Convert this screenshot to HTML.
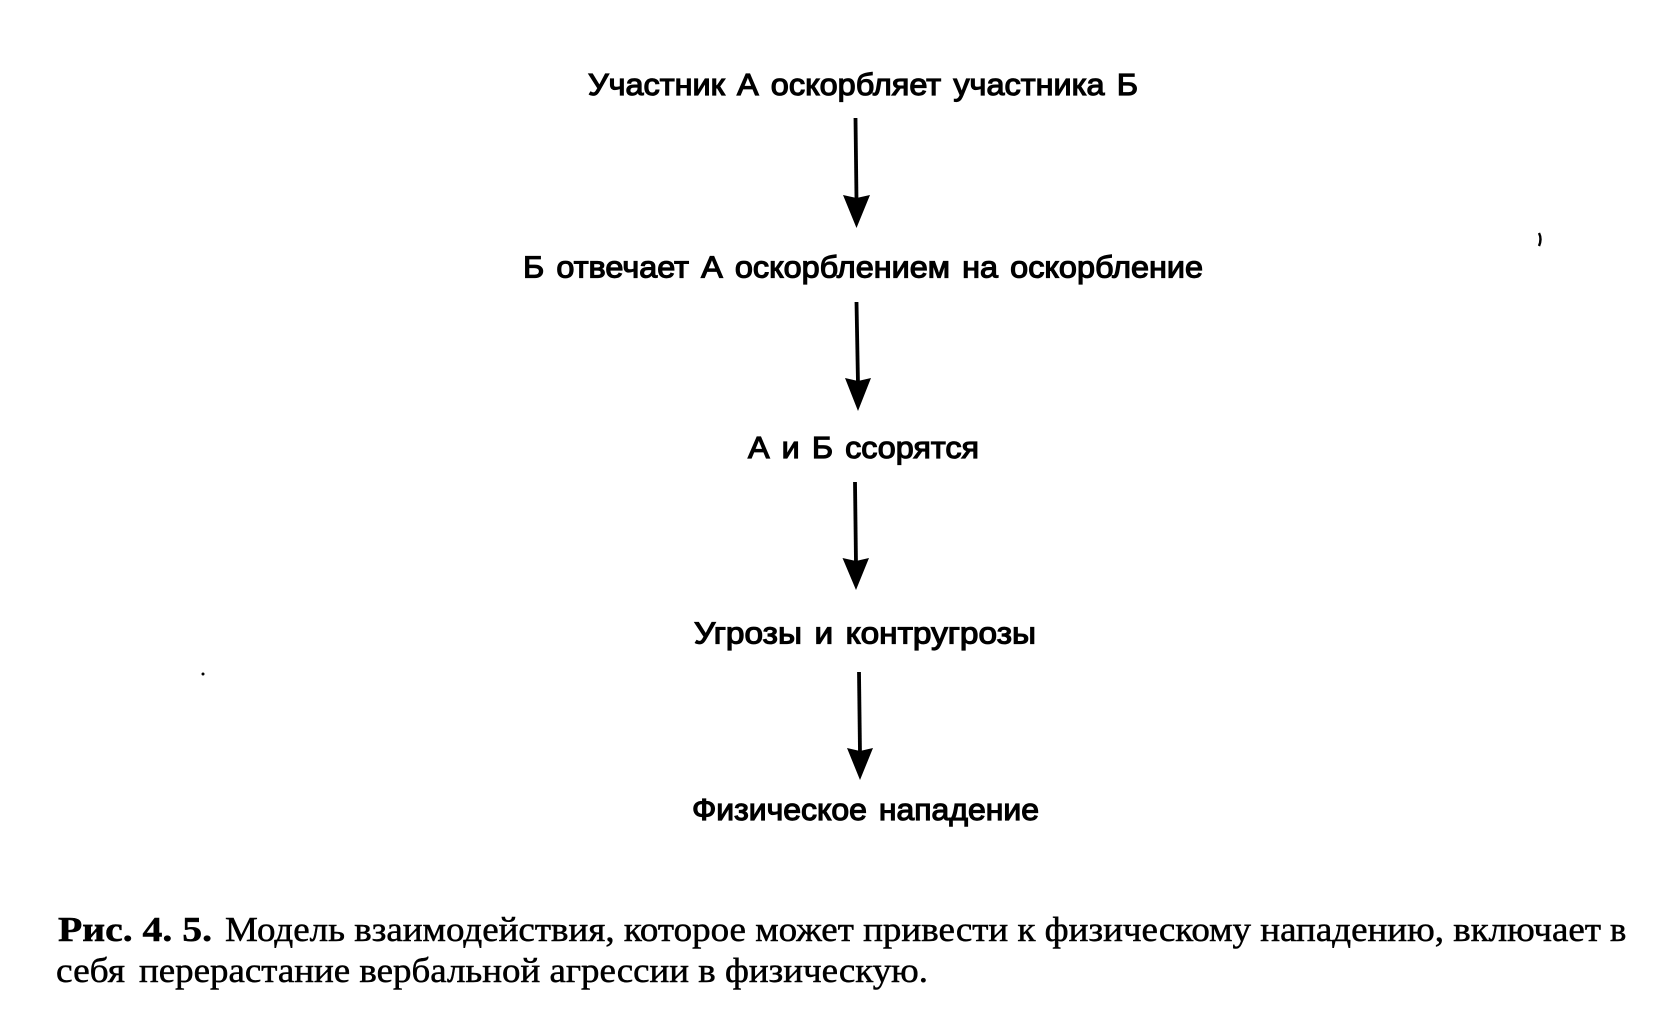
<!DOCTYPE html>
<html lang="ru">
<head>
<meta charset="utf-8">
<title>Рис. 4.5</title>
<style>
html,body{margin:0;padding:0;background:#fff;width:1656px;height:1019px;overflow:hidden}
svg{display:block}
.s{font-family:"Liberation Sans","DejaVu Sans",sans-serif;font-size:31px;font-weight:400;fill:#000;stroke:#000;stroke-width:1.2px;word-spacing:3px}
.c{font-family:"Liberation Serif","DejaVu Serif",serif;font-size:34.5px;fill:#000;stroke:#000;stroke-width:.5px}
.b{font-weight:700}
</style>
</head>
<body>
<svg width="1656" height="1019" viewBox="0 0 1656 1019" xmlns="http://www.w3.org/2000/svg">
<rect width="1656" height="1019" fill="#fff"/>

<text class="s" x="588" y="95" textLength="550" lengthAdjust="spacingAndGlyphs">Участник А оскорбляет участника Б</text>
<text class="s" x="523" y="277.5" textLength="680" lengthAdjust="spacingAndGlyphs">Б отвечает А оскорблением на оскорбление</text>
<text class="s" x="748" y="458" textLength="231" lengthAdjust="spacingAndGlyphs">А и Б ссорятся</text>
<text class="s" x="694" y="643.5" textLength="342" lengthAdjust="spacingAndGlyphs">Угрозы и контругрозы</text>
<text class="s" x="692" y="820" textLength="347" lengthAdjust="spacingAndGlyphs">Физическое нападение</text>

<g stroke="#000" stroke-width="3.8" fill="none">
<path d="M855.5 118L856.5 200"/>
<path d="M856.5 302L858 384"/>
<path d="M855 482L856 564"/>
<path d="M859 672L860 754"/>
</g>
<g fill="#000">
<path d="M843 195L856.5 198L870 195L856.5 228Z"/>
<path d="M845 378L858 381L871 378L858 411Z"/>
<path d="M842.5 558L856 561L869 558L856 590Z"/>
<path d="M847 748L860 751L873 748L860 780Z"/>
</g>

<text class="c b" x="58" y="941" textLength="154" lengthAdjust="spacingAndGlyphs">Рис. 4. 5.</text>
<text class="c" x="225" y="941" textLength="1376" lengthAdjust="spacingAndGlyphs">Модель взаимодействия, которое может привести к физическому нападению, включает</text>
<text class="c" x="1610" y="941">в</text>
<text class="c" x="56" y="982" textLength="69" lengthAdjust="spacingAndGlyphs">себя</text>
<text class="c" x="139" y="982" textLength="789" lengthAdjust="spacingAndGlyphs">перерастание вербальной агрессии в физическую.</text>

<path d="M1539 233Q1542 239 1539 246" stroke="#000" stroke-width="2.4" fill="none"/>
<circle cx="203" cy="674" r="1.5" fill="#000"/>
</svg>
</body>
</html>
